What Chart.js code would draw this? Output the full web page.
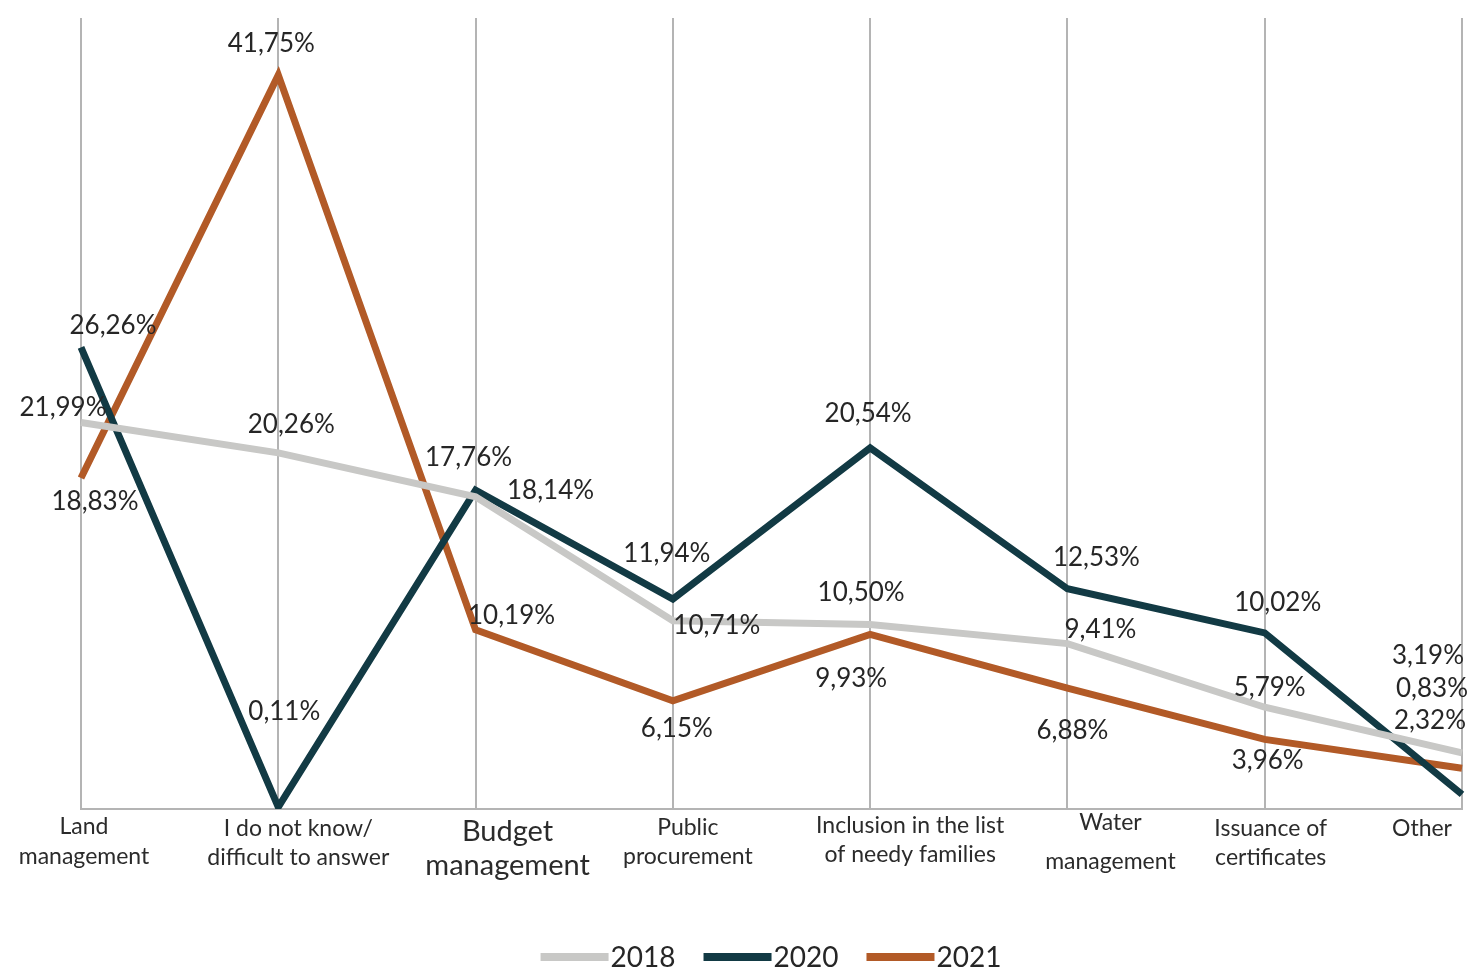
<!DOCTYPE html>
<html>
<head>
<meta charset="utf-8">
<script src="https://cdn.jsdelivr.net/npm/chart.js@4"></script>
<style>
  html, body { margin: 0; padding: 0; background: #ffffff; }
  #wrap { width: 1474px; height: 972px; }
</style>
</head>
<body>
<div id="wrap"><canvas id="myChart"></canvas></div>
<script>
// categories (multi-line labels)
var categories = [
  ['Land', 'management'],
  ['I do not know/', 'difficult to answer'],
  ['Budget', 'management'],
  ['Public', 'procurement'],
  ['Inclusion in the list', 'of needy families'],
  ['Water', 'management'],
  ['Issuance of', 'certificates'],
  ['Other']
];

// series values, %
var values2018 = [21.99, 20.26, 17.76, 10.71, 10.50, 9.41, 5.79, 3.19];
var values2020 = [26.26, 0.11, 18.14, 11.94, 20.54, 12.53, 10.02, 0.83];
var values2021 = [18.83, 41.75, 10.19, 6.15, 9.93, 6.88, 3.96, 2.32];

var seriesNames = ['2018', '2020', '2021'];
var seriesColors = ['#c8c8c6', '#123a44', '#b25a27'];

var FONT = 'Lato, "Noto Sans", sans-serif';

// where each value label sits relative to its point (px)
var labelOffsets = [
  [[-18, -15], [13, -28], [-7, -39], [44, 5], [-9, -32], [33, -14], [5, -20], [-34, -97]],
  [[32, -22], [6, -95], [75, 0], [-6, -46], [-2, -34], [29, -31], [13, -30], [-30, -106]],
  [[14, 24], [-7, -32], [36, -14], [4, 28], [-19, 44], [5, 43], [3, 21], [-32, -48]]
];

// x label placement relative to the tick (dx, line y's, font size)
var xLabelDx = [3, 20, 32, 15, 40, 43, 6, -40];
var xLabelY = [[827, 857], [829, 858], [832, 866], [828, 857], [826, 855], [823, 862], [829, 858], [829]];
var xLabelSize = [23, 23, 29, 23, 23, 23, 23, 23];

function fmt(v) {
  return v.toFixed(2).replace('.', ',') + '%';
}

var labelPlugin = {
  id: 'labelPlugin',
  afterDatasetsDraw: function(chart) {
    var ctx = chart.ctx;
    var xScale = chart.scales.x;
    ctx.save();
    ctx.fillStyle = '#262626';
    ctx.textAlign = 'center';
    ctx.textBaseline = 'middle';
    ctx.font = '26px ' + FONT;
    chart.data.datasets.forEach(function(ds, di) {
      var meta = chart.getDatasetMeta(di);
      meta.data.forEach(function(pt, i) {
        var off = labelOffsets[di][i];
        ctx.fillText(fmt(ds.data[i]), pt.x + off[0], pt.y + off[1]);
      });
    });

    // category labels
    ctx.fillStyle = '#2b2b2b';
    categories.forEach(function(lines, i) {
      var x = xScale.getPixelForValue(i) + xLabelDx[i];
      ctx.font = xLabelSize[i] + 'px ' + FONT;
      lines.forEach(function(line, j) {
        ctx.fillText(line, x, xLabelY[i][j]);
      });
    });

    // legend
    ctx.font = '28px ' + FONT;
    ctx.textAlign = 'left';
    var boxW = 68, gap = 2, itemGap = 28;
    var widths = seriesNames.map(function(n) { return boxW + gap + ctx.measureText(n).width; });
    var total = widths.reduce(function(a, b) { return a + b; }, 0) + itemGap * (widths.length - 1);
    var x0 = 771 - total / 2;
    var ly = 957;
    seriesNames.forEach(function(n, k) {
      ctx.fillStyle = seriesColors[k];
      ctx.fillRect(x0, ly - 4, boxW, 8);
      ctx.fillStyle = '#262626';
      ctx.fillText(n, x0 + boxW + gap, ly + 1);
      x0 += widths[k] + itemGap;
    });
    ctx.restore();
  }
};

var allSeries = [values2018, values2020, values2021];

new Chart(document.getElementById('myChart'), {
  type: 'line',
  data: {
    labels: categories,
    datasets: allSeries.map(function(vals, k) {
      return {
        label: seriesNames[k],
        data: vals,
        borderColor: seriesColors[k],
        backgroundColor: seriesColors[k],
        borderWidth: 7,
        pointRadius: 0,
        tension: 0,
        borderJoinStyle: 'miter',
        fill: false
      };
    })
  },
  options: {
    responsive: true,
    maintainAspectRatio: false,
    animation: false,
    layout: { padding: { left: 81, right: 12, top: 18, bottom: 163 } },
    plugins: {
      legend: { display: false },
      tooltip: { enabled: false }
    },
    scales: {
      x: {
        offset: false,
        grid: { color: '#b4b4b4', lineWidth: 2, drawTicks: false },
        border: { display: true, color: '#b4b4b4', width: 2 },
        ticks: { display: false }
      },
      y: {
        display: false,
        min: 0,
        max: 45
      }
    }
  },
  plugins: [labelPlugin]
});
</script>
</body>
</html>
